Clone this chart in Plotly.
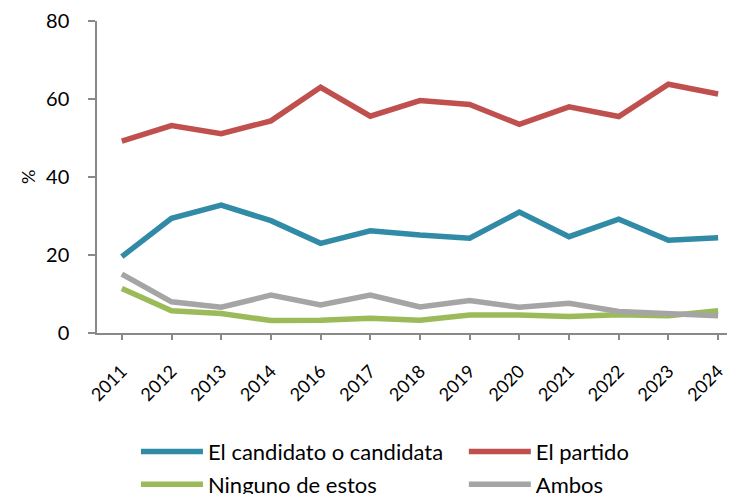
import plotly.graph_objects as go

years = ["2011", "2012", "2013", "2014", "2016", "2017", "2018", "2019", "2020", "2021", "2022", "2023", "2024"]
candidato = [19.6, 29.4, 32.8, 28.8, 23.0, 26.2, 25.1, 24.3, 31.0, 24.7, 29.2, 23.8, 24.4]
partido = [49.2, 53.2, 51.1, 54.4, 63.0, 55.6, 59.6, 58.6, 53.5, 58.0, 55.5, 63.8, 61.3]
ninguno = [11.4, 5.7, 5.0, 3.2, 3.3, 3.8, 3.3, 4.6, 4.6, 4.2, 4.7, 4.4, 5.7]
ambos = [15.1, 8.0, 6.6, 9.7, 7.2, 9.7, 6.7, 8.3, 6.6, 7.6, 5.5, 4.9, 4.4]
y_title = "%"

series = [
    ("El candidato o candidata", candidato, "#318BA6", "legend"),
    ("El partido", partido, "#C0504D", "legend2"),
    ("Ninguno de estos", ninguno, "#9BBB59", "legend"),
    ("Ambos", ambos, "#A5A5A5", "legend2"),
]

FONT = "Lato"

fig = go.Figure()
for name, vals, color, lg in series:
    fig.add_trace(go.Scatter(
        x=list(range(len(years))), y=vals, name=name, mode="lines",
        line=dict(color=color, width=5.5), legend=lg, legendgroup=name,
    ))

leg_common = dict(xref="container", yref="container", xanchor="left", yanchor="top",
                  font=dict(size=22, family=FONT), itemwidth=62,
                  bgcolor="rgba(0,0,0,0)", tracegroupgap=1)

# page body has an 8px margin, so the figure is 8px smaller than the window
fig.update_layout(
    width=727, height=486,
    margin=dict(l=89, r=0, t=13, b=161, autoexpand=False),
    plot_bgcolor="white", paper_bgcolor="white",
    font=dict(family=FONT, color="black"),
    showlegend=True,
    legend=dict(x=0.176, y=0.13, **leg_common),
    legend2=dict(x=0.627, y=0.13, **leg_common),
)
fig.add_annotation(
    text=y_title, xref="paper", yref="paper", x=-0.108, y=0.5,
    textangle=-90, showarrow=False, font=dict(size=18, family=FONT),
    xanchor="center", yanchor="middle",
)
fig.update_xaxes(
    tickmode="array", tickvals=list(range(len(years))), ticktext=years,
    range=[-0.5, 12.34], showgrid=False, zeroline=False, automargin=False,
    showline=True, linecolor="#898989", linewidth=1.5,
    ticks="outside", ticklen=5, tickcolor="#898989", tickwidth=1.5,
    tickangle=-45, tickfont=dict(size=18, family=FONT), ticklabelstandoff=14,
)
fig.update_yaxes(
    range=[0, 80], tickvals=[0, 20, 40, 60, 80], showgrid=False, zeroline=False,
    automargin=False,
    showline=True, linecolor="#898989", linewidth=1.5,
    ticks="outside", ticklen=7, tickcolor="#898989", tickwidth=1.5,
    tickfont=dict(size=20, family=FONT), ticklabelstandoff=15,
)

fig.write_html("out.html")
